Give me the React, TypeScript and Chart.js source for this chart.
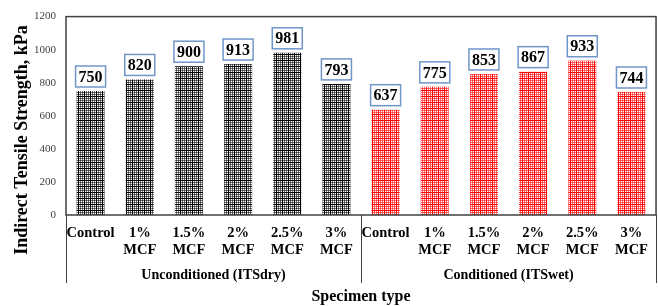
import React, { useEffect, useRef } from "react";
import { Chart, registerables } from "chart.js";

Chart.register(...registerables);

const categories: string[][] = [["Control"], ["1%", "MCF"], ["1.5%", "MCF"], ["2%", "MCF"], ["2.5%", "MCF"], ["3%", "MCF"]];
const dryValues = [750, 820, 900, 913, 981, 793];
const wetValues = [637, 775, 853, 867, 933, 744];
const groupLabels = ["Unconditioned (ITSdry)", "Conditioned (ITSwet)"];
const yTicks = [0, 200, 400, 600, 800, 1000, 1200];
const yTitle = "Indirect Tensile Strength, kPa";
const xTitle = "Specimen type";

const SERIF = "'Liberation Serif', 'Times New Roman', serif";

function makePattern(color: string): CanvasPattern | string {
  const c = document.createElement("canvas");
  const s = 6;
  c.width = s;
  c.height = s;
  const g = c.getContext("2d");
  if (!g) return color;
  g.fillStyle = "#ffffff";
  g.fillRect(0, 0, s, s);
  g.fillStyle = color;
  g.globalAlpha = 0.55;
  g.fillRect(2, 0, 1, s);
  g.fillRect(4, 0, 1, s);
  g.fillRect(0, 2, s, 1);
  g.fillRect(0, 4, s, 1);
  g.globalAlpha = 1;
  g.fillRect(0, 0, 1, s);
  g.fillRect(0, 0, s, 1);
  const p = g.createPattern(c, "repeat");
  return p || color;
}

export default function App() {
  const ref = useRef<HTMLCanvasElement | null>(null);

  useEffect(() => {
    document.body.style.margin = "0";
    const canvas = ref.current;
    if (!canvas) return;
    const black = makePattern("#000000");
    const red = makePattern("#ff0000");
    const values = [...dryValues, ...wetValues];
    const labels = [...categories, ...categories];
    const colors = [...dryValues.map(() => black), ...wetValues.map(() => red)];

    const overlay = {
      id: "overlay",
      afterDraw(chart: any) {
        const ctx = chart.ctx as CanvasRenderingContext2D;
        const area = chart.chartArea;
        const xs = chart.scales.x;
        ctx.save();
        ctx.strokeStyle = "#404040";
        ctx.lineWidth = 1.5;
        ctx.strokeRect(area.left, area.top, area.right - area.left, area.bottom - area.top);
        const n = dryValues.length;
        const mid = (xs.getPixelForValue(n - 1) + xs.getPixelForValue(n)) / 2;
        const seps = [area.left, mid, area.right];
        ctx.lineWidth = 1;
        ctx.strokeStyle = "#404040";
        seps.forEach((sx) => {
          ctx.beginPath();
          ctx.moveTo(Math.round(sx) + 0.5, area.bottom);
          ctx.lineTo(Math.round(sx) + 0.5, 283);
          ctx.stroke();
        });
        ctx.fillStyle = "#000";
        ctx.font = `bold 14px ${SERIF}`;
        ctx.textAlign = "center";
        ctx.textBaseline = "middle";
        ctx.fillText(groupLabels[0], (seps[0] + seps[1]) / 2, 275);
        ctx.fillText(groupLabels[1], (seps[1] + seps[2]) / 2, 275);
        ctx.save();
        ctx.translate(22, 140);
        ctx.rotate(-Math.PI / 2);
        ctx.font = `bold 18px ${SERIF}`;
        ctx.fillText(yTitle, 0, 0);
        ctx.restore();
        const meta = chart.getDatasetMeta(0);
        ctx.font = `bold 16px ${SERIF}`;
        meta.data.forEach((el: any, i: number) => {
          const txt = String(values[i]);
          const w = ctx.measureText(txt).width + 6;
          const h = 21;
          const bx = el.x - w / 2;
          const by = el.y - 4 - h;
          ctx.fillStyle = "#ffffff";
          ctx.fillRect(bx, by, w, h);
          ctx.strokeStyle = "#7096c8";
          ctx.lineWidth = 1.5;
          ctx.strokeRect(bx, by, w, h);
          ctx.fillStyle = "#000";
          ctx.fillText(txt, el.x, by + h / 2 + 1);
        });
        ctx.restore();
      },
    };

    const chart = new Chart(canvas, {
      type: "bar",
      data: {
        labels,
        datasets: [
          {
            data: values,
            backgroundColor: colors as any,
            borderWidth: 0,
            barPercentage: 0.57,
            categoryPercentage: 1,
          },
        ],
      },
      options: {
        animation: false,
        responsive: false,
        maintainAspectRatio: false,
        layout: { padding: { top: 13, right: 1, left: 0, bottom: 0 } },
        plugins: { legend: { display: false }, tooltip: { enabled: false } },
        scales: {
          x: {
            grid: { display: false, drawTicks: false },
            border: { display: false },
            ticks: {
              autoSkip: false,
              maxRotation: 0,
              minRotation: 0,
              padding: 10,
              color: "#000",
              font: { family: SERIF, size: 14.5, weight: "bold", lineHeight: 1.15 },
            },
            title: {
              display: true,
              text: xTitle,
              color: "#000",
              font: { family: SERIF, size: 16, weight: "bold" },
              padding: { top: 0, bottom: 0 },
            },
            afterFit: (scale: any) => {
              scale.height = 91;
            },
          },
          y: {
            min: 0,
            max: 1200,
            afterBuildTicks: (scale: any) => {
              scale.ticks = yTicks.map((v) => ({ value: v }));
            },
            grid: { display: false, drawTicks: false },
            border: { display: false },
            ticks: {
              padding: 10,
              color: "#404040",
              font: { family: SERIF, size: 11 },
              callback: (v: any) => String(v),
            },
            afterFit: (scale: any) => {
              scale.width = 66;
            },
          },
        },
      },
      plugins: [overlay],
    });
    return () => chart.destroy();
  }, []);

  return <canvas ref={ref} width={658} height={306} style={{ display: "block" }} />;
}
